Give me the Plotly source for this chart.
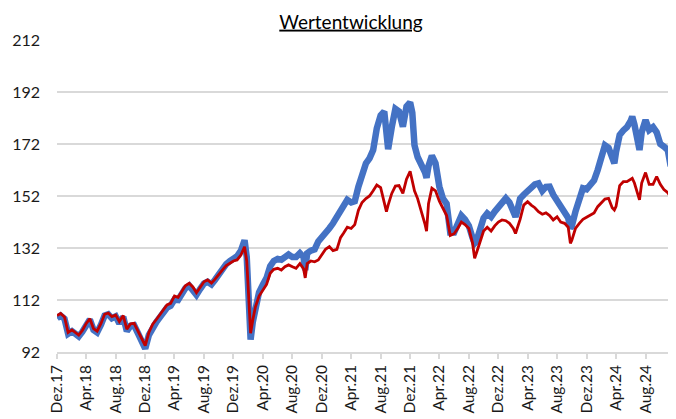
import plotly.graph_objects as go

dates = [
    "2017-12-01", "2017-12-16", "2018-01-01", "2018-01-16", "2018-02-01", "2018-02-15", "2018-03-01", "2018-03-16",
    "2018-04-01", "2018-04-16", "2018-05-01", "2018-05-16", "2018-06-01", "2018-06-16", "2018-07-01", "2018-07-16",
    "2018-08-01", "2018-08-16", "2018-09-01", "2018-09-16", "2018-10-01", "2018-10-16", "2018-11-01", "2018-11-16",
    "2018-12-01", "2018-12-16", "2019-01-01", "2019-01-16", "2019-02-01", "2019-02-15", "2019-03-01", "2019-03-16",
    "2019-04-01", "2019-04-16", "2019-05-01", "2019-05-16", "2019-06-01", "2019-06-16", "2019-07-01", "2019-07-16",
    "2019-08-01", "2019-08-16", "2019-09-01", "2019-09-16", "2019-10-01", "2019-10-16", "2019-11-01", "2019-11-16",
    "2019-12-01", "2019-12-16", "2020-01-01", "2020-01-16", "2020-01-25", "2020-02-01", "2020-02-10", "2020-02-19",
    "2020-03-01", "2020-03-16", "2020-04-01", "2020-04-16", "2020-05-01", "2020-05-16", "2020-06-01", "2020-06-16",
    "2020-07-01", "2020-07-16", "2020-08-01", "2020-08-16", "2020-09-01", "2020-09-16", "2020-09-23", "2020-10-01",
    "2020-10-16", "2020-11-01", "2020-11-16", "2020-12-01", "2020-12-16", "2021-01-01", "2021-01-16", "2021-02-01",
    "2021-02-16", "2021-03-01", "2021-03-16", "2021-04-01", "2021-04-16", "2021-05-01", "2021-05-16", "2021-06-01",
    "2021-06-16", "2021-07-01", "2021-07-16", "2021-08-01", "2021-08-16", "2021-08-25", "2021-09-01", "2021-09-16",
    "2021-10-01", "2021-10-16", "2021-11-01", "2021-11-16", "2021-12-01", "2021-12-10", "2021-12-19", "2022-01-01",
    "2022-01-16", "2022-02-01", "2022-02-07", "2022-02-15", "2022-03-01", "2022-03-16", "2022-04-01", "2022-04-16",
    "2022-05-01", "2022-05-16", "2022-06-01", "2022-06-16", "2022-07-01", "2022-07-16", "2022-08-01", "2022-08-16",
    "2022-08-25", "2022-09-01", "2022-09-16", "2022-10-01", "2022-10-16", "2022-11-01", "2022-11-16", "2022-12-01",
    "2022-12-16", "2023-01-01", "2023-01-16", "2023-02-01", "2023-02-10", "2023-02-15", "2023-03-01", "2023-03-16",
    "2023-04-01", "2023-04-16", "2023-05-01", "2023-05-16", "2023-06-01", "2023-06-16", "2023-07-01", "2023-07-16",
    "2023-08-01", "2023-08-16", "2023-09-01", "2023-09-16", "2023-09-25", "2023-10-01", "2023-10-16", "2023-11-01",
    "2023-11-16", "2023-12-01", "2023-12-16", "2024-01-01", "2024-01-16", "2024-02-01", "2024-02-15", "2024-03-01",
    "2024-03-16", "2024-03-25", "2024-04-01", "2024-04-16", "2024-05-01", "2024-05-16", "2024-06-01", "2024-06-07",
    "2024-06-16", "2024-07-01", "2024-07-07", "2024-07-16", "2024-08-01", "2024-08-16", "2024-09-01", "2024-09-16",
    "2024-10-01", "2024-10-16", "2024-11-01", "2024-11-13", "2024-11-19",
]

blue_values = [
    105, 106, 104.8, 99, 100, 99, 98, 99.8,
    102.5, 104.5, 100.5, 99.5, 102.5, 106, 106.5, 105,
    105.7, 103, 105.5, 100, 102, 102.3, 99.2, 96.5,
    93.3, 98.5, 101.8, 103.5, 105.5, 107.5, 109, 109.8,
    112.2, 112, 114.5, 116.5, 117.5, 116, 114, 116.2,
    118.3, 119, 118, 119.8, 122, 123.8, 125.8, 127,
    128, 128.8, 131, 135, 128.5, 114, 96.8, 103.5,
    109.5, 115, 118, 120.5, 125, 127, 127.8, 127.5,
    128.5, 129.5, 128.5, 128.5, 130, 128.5, 123.5, 130,
    131, 131.5, 134.5, 136.5, 138.5, 139.6, 141.5, 144,
    146, 147.5, 150.5, 149.5, 150, 155.6, 161, 164.5,
    166.5, 169.7, 178, 183, 184.5, 176, 170, 178.5,
    185.5, 184.5, 178.7, 186.4, 188, 184, 171.5, 167,
    164.6, 161, 159, 163.5, 167.5, 164.6, 155.6, 151,
    149, 138, 138, 141.5, 144.5, 143, 140.5, 136,
    133.8, 134.5, 140, 143.5, 145.3, 144, 146, 148,
    149.8, 151.1, 149.5, 146, 144, 145.5, 151, 152.5,
    154, 155.5, 156.5, 156.9, 154, 155.5, 155.6, 152.5,
    150.2, 148.8, 146.5, 143.5, 139.6, 140.5, 146, 151.5,
    155, 154.6, 156.5, 158, 162, 167.1, 171.5, 170.5,
    166.5, 164.6, 169, 175.5, 177.2, 178.5, 181, 182.5,
    179.5, 171.5, 169.7, 176.5, 181.2, 177.4, 178.5, 176.5,
    172, 171, 169.7, 163.5, 165,
]

red_values = [
    106, 106.8, 105.5, 99.5, 100.5, 99.5, 98.5, 100.3,
    103, 104.8, 101, 100, 103, 106.5, 107, 105.6,
    106.2, 103.7, 106, 100.8, 102.8, 103, 100, 97.5,
    94.5, 99.5, 102.7, 104.5, 106.5, 108.5, 110.1, 110.7,
    113.5, 113, 115.5, 117.5, 118.4, 117, 114.8, 117,
    119, 119.7, 118.5, 120, 122, 123.5, 125.2, 126.2,
    127, 127.4, 129.3, 132.5, 127, 115, 99.2, 104.3,
    109.4, 113.5, 116, 118, 122.3, 123.8, 124.2, 123.5,
    124.8, 125.5, 124.8, 124.2, 126, 124, 120.5, 126,
    127, 126.7, 127.4, 129.5, 131.5, 132.5, 131, 131.5,
    136, 137.8, 140, 139.5, 141, 146.5, 149.5, 151,
    152, 154, 156.2, 155.2, 150, 146, 148.5, 153,
    155.8, 156, 153, 158.5, 161.5, 158, 154, 151,
    146.5, 141, 138.5, 149, 155, 154, 150, 147,
    144.5, 136.8, 137.5, 139.5, 142, 141, 139.5, 134,
    128, 130, 134.5, 138.5, 140, 138.5, 140.5, 142,
    142.8, 142.5, 141.5, 139.5, 137.6, 139, 143, 148.5,
    149.8, 148.5, 147.5, 146, 145, 145.5, 144.5, 142.8,
    144, 142, 141.5, 140, 133.8, 135, 139.5, 141.5,
    143, 143.8, 144.5, 145.5, 147.9, 149.5, 150.8, 151.1,
    147.5, 146.6, 148, 156, 157.5, 157.5, 158.5, 158.8,
    157, 152, 150.5, 157, 161, 156.5, 156.5, 159.5,
    156.5, 154.5, 153.3, 151.7, 151,
]

tick_dates = [
    "2017-12-01", "2018-04-01", "2018-08-01", "2018-12-01", "2019-04-01", "2019-08-01",
    "2019-12-01", "2020-04-01", "2020-08-01", "2020-12-01", "2021-04-01", "2021-08-01",
    "2021-12-01", "2022-04-01", "2022-08-01", "2022-12-01", "2023-04-01", "2023-08-01",
    "2023-12-01", "2024-04-01", "2024-08-01", "2024-12-01",
]
tick_labels = [
    "Dez.17", "Apr.18", "Aug.18", "Dez.18", "Apr.19", "Aug.19",
    "Dez.19", "Apr.20", "Aug.20", "Dez.20", "Apr.21", "Aug.21",
    "Dez.21", "Apr.22", "Aug.22", "Dez.22", "Apr.23", "Aug.23",
    "Dez.23", "Apr.24", "Aug.24", "Dez.24",
]
y_ticks = [92, 112, 132, 152, 172, 192, 212]

FONT = "Lato, Carlito, Calibri, sans-serif"
GRID = "#d9d9d9"

# the page body has an 8px default margin, so the figure is sized to fill the rest
W, H = 668, 411

fig = go.Figure()
fig.add_trace(go.Scatter(x=dates, y=blue_values, mode="lines",
                         line=dict(color="#4472C4", width=6.5), hoverinfo="skip"))
fig.add_trace(go.Scatter(x=dates, y=red_values, mode="lines",
                         line=dict(color="#C00000", width=2.8), hoverinfo="skip"))

fig.update_layout(
    width=W, height=H,
    margin=dict(l=49, r=0, t=32, b=67, autoexpand=False),
    paper_bgcolor="white", plot_bgcolor="white",
    showlegend=False,
    font=dict(family=FONT, size=16, color="#1a1a1a"),
    title=dict(text="<u>Wertentwicklung</u>", x=(351 - 8) / W, xref="container", xanchor="center",
               y=1 - (22 - 8) / H, yref="container", yanchor="middle",
               font=dict(family=FONT, size=19, color="#000000")),
    xaxis=dict(type="date", range=["2017-12-01", "2024-12-05"], automargin=False,
               tickmode="array", tickvals=tick_dates, ticktext=tick_labels,
               tickangle=-90, tickfont=dict(family=FONT, size=15.5, color="#1a1a1a"),
               ticklabeloverflow="allow",
               showgrid=False, showline=True, linecolor=GRID, linewidth=1.5,
               ticks="outside", ticklen=5, tickcolor=GRID, tickwidth=1.5, zeroline=False),
    yaxis=dict(range=[92, 212], tickmode="array", tickvals=y_ticks, automargin=False,
               showgrid=True, gridcolor=GRID, gridwidth=1.5, zeroline=False,
               showline=False, ticks="", ticklabelstandoff=16,
               tickfont=dict(family=FONT, size=16, color="#1a1a1a")),
)

fig.write_html("out.html")
